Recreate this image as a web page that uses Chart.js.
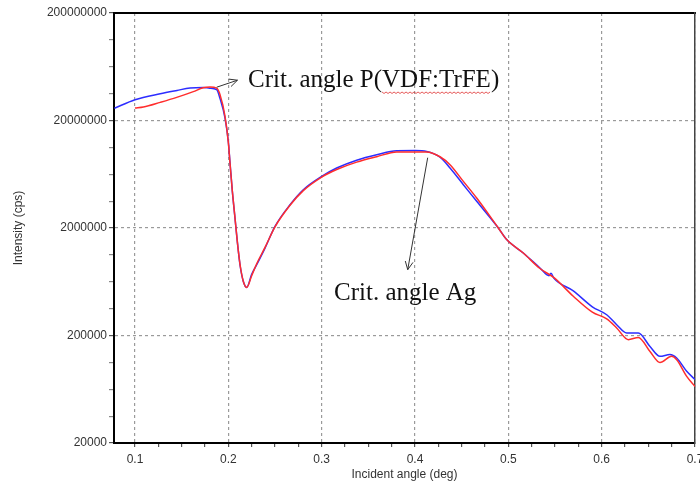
<!DOCTYPE html>
<html lang="en">
<head>
<meta charset="UTF-8">
<title>Reflectivity scan</title>
<script src="https://cdn.jsdelivr.net/npm/chart.js"></script>
<style>
  html, body { margin: 0; padding: 0; background: #fff; }
  canvas { display: block; }
</style>
</head>
<body>
<canvas id="scan" width="700" height="484"></canvas>
<script>
// incident angle (deg) / intensity (cps) for the two scans
const blueAngle = [0.078, 0.100, 0.127, 0.145, 0.159, 0.173, 0.180, 0.1875, 0.1911, 0.1964, 0.200, 0.2018,
  0.2043, 0.2071, 0.2096, 0.2125, 0.216, 0.2197, 0.225, 0.2304, 0.2393, 0.250, 0.2661, 0.2803, 0.300,
  0.3161, 0.3375, 0.359, 0.3804, 0.400, 0.4125, 0.4268, 0.4375, 0.4518, 0.4661, 0.4893, 0.4982, 0.516,
  0.5339, 0.5436, 0.5457, 0.5489, 0.5696, 0.590, 0.6054, 0.6161, 0.6268, 0.6393, 0.6518, 0.6625, 0.6732,
  0.6804, 0.6911, 0.700];
const blueCps = [2.6e7, 3.12e7, 3.55e7, 3.81e7, 4.01e7, 4.06e7, 4.0e7, 3.87e7, 3.2e7, 2.12e7, 1.27e7, 8.1e6,
  4.38e6, 2.49e6, 1.5e6, 9.1e5, 6.4e5, 5.6e5, 7.4e5, 9.1e5, 1.3e6, 2.07e6, 3.29e6, 4.54e6, 6.04e6,
  7.23e6, 8.55e6, 9.61e6, 1.047e7, 1.05e7, 1.03e7, 9.1e6, 7.23e6, 5.06e6, 3.54e6, 2.0e6, 1.56e6, 1.17e6,
  8.5e5, 7.2e5, 7.6e5, 6.8e5, 5.2e5, 3.7e5, 3.12e5, 2.52e5, 2.11e5, 2.11e5, 1.58e5, 1.28e5, 1.33e5,
  1.235e5, 9.3e4, 7.8e4];

const redAngle = [0.100, 0.109, 0.127, 0.1447, 0.1625, 0.173, 0.1804, 0.1875, 0.1911, 0.1964, 0.200, 0.2018,
  0.2043, 0.2071, 0.2096, 0.2125, 0.216, 0.2197, 0.225, 0.2304, 0.2393, 0.250, 0.2661, 0.2803, 0.300,
  0.3161, 0.3375, 0.359, 0.3804, 0.400, 0.4125, 0.4268, 0.4375, 0.4518, 0.4661, 0.4893, 0.4982, 0.516,
  0.5339, 0.5489, 0.5696, 0.590, 0.6054, 0.6161, 0.6285, 0.6393, 0.6518, 0.6625, 0.675, 0.6804, 0.6911,
  0.700];
const redCps = [2.61e7, 2.67e7, 2.95e7, 3.28e7, 3.71e7, 4.03e7, 4.1e7, 4.0e7, 3.48e7, 2.2e7, 1.25e7, 8.0e6,
  4.4e6, 2.5e6, 1.5e6, 9.2e5, 6.4e5, 5.6e5, 7.2e5, 9.3e5, 1.32e6, 2.05e6, 3.25e6, 4.45e6, 5.95e6,
  7.0e6, 8.2e6, 9.21e6, 1.019e7, 1.02e7, 1.02e7, 9.2e6, 7.76e6, 5.43e6, 3.8e6, 2.0e6, 1.56e6, 1.17e6,
  8.4e5, 6.9e5, 4.64e5, 3.3e5, 2.85e5, 2.35e5, 1.83e5, 1.92e5, 1.42e5, 1.12e5, 1.28e5, 1.19e5, 8.33e4,
  6.72e4];

const xTickLabels = ['0.1', '0.2', '0.3', '0.4', '0.5', '0.6', '0.7'];
const yTickValues = [2e4, 2e5, 2e6, 2e7, 2e8];
const yTickLabels = ['20000', '200000', '2000000', '20000000', '200000000'];

// callouts, placed in data units
const notes = [
  { text: 'Crit. angle P(VDF:TrFE)', at: [0.2211, 4.1e7], squiggle: 'VDF:TrFE',
    arrow: [[0.1875, 4.08e7], [0.2098, 4.74e7]] },
  { text: 'Crit. angle Ag', at: [0.3132, 4.31e5],
    arrow: [[0.4136, 9.02e6], [0.3922, 8.19e5]] }
];

const toPoints = (xs, ys) => xs.map((x, i) => ({ x: x, y: ys[i] }));

const isMajorX = v => xTickLabels.some(l => Math.abs(parseFloat(l) - v) < 1e-6);
const yMajorIndex = v => yTickValues.findIndex(t => Math.abs(Math.log10(t / v)) < 1e-6);

const noteLayer = {
  id: 'noteLayer',
  afterDatasetsDraw(chart) {
    const { ctx, scales: { x, y } } = chart;
    const px = p => [x.getPixelForValue(p[0]), y.getPixelForValue(p[1])];
    ctx.save();
    ctx.font = '25px "Liberation Serif"';
    ctx.textBaseline = 'alphabetic';
    ctx.textAlign = 'left';
    notes.forEach(n => {
      const [tx, ty] = px(n.at);
      ctx.fillStyle = '#111';
      ctx.fillText(n.text, tx, ty);

      if (n.squiggle) {
        const start = tx + ctx.measureText(n.text.slice(0, n.text.indexOf(n.squiggle))).width;
        const w = ctx.measureText(n.squiggle).width;
        ctx.beginPath();
        ctx.strokeStyle = '#e03030';
        ctx.lineWidth = 0.8;
        for (let i = 0; i <= w; i += 2) {
          const yy = ty + 5 + (i % 4 === 0 ? 0 : 1.5);
          if (i === 0) ctx.moveTo(start + i, yy); else ctx.lineTo(start + i, yy);
        }
        ctx.stroke();
      }

      const [x0, y0] = px(n.arrow[0]);
      const [x1, y1] = px(n.arrow[1]);
      const ang = Math.atan2(y1 - y0, x1 - x0);
      ctx.strokeStyle = '#333';
      ctx.lineWidth = 1;
      ctx.beginPath();
      ctx.moveTo(x0, y0);
      ctx.lineTo(x1, y1);
      [-0.45, 0.45].forEach(d => {
        ctx.moveTo(x1, y1);
        ctx.lineTo(x1 - 9 * Math.cos(ang + d), y1 - 9 * Math.sin(ang + d));
      });
      ctx.stroke();
    });
    ctx.restore();
  }
};

const tickFont = { family: 'Liberation Sans', size: 12 };

new Chart(document.getElementById('scan'), {
  type: 'line',
  data: {
    datasets: [
      {
        data: toPoints(redAngle, redCps),
        borderColor: 'rgb(255,45,45)',
        borderWidth: 1.5,
        pointRadius: 0,
        cubicInterpolationMode: 'monotone',
        order: 0
      },
      {
        data: toPoints(blueAngle, blueCps),
        borderColor: 'rgb(45,45,255)',
        borderWidth: 1.5,
        pointRadius: 0,
        cubicInterpolationMode: 'monotone',
        order: 1
      }
    ]
  },
  options: {
    responsive: false,
    animation: false,
    devicePixelRatio: 1,
    layout: { padding: { left: 11, right: 5, top: 13, bottom: 2 } },
    plugins: { legend: { display: false }, tooltip: { enabled: false } },
    scales: {
      x: {
        type: 'linear',
        position: 'bottom',
        min: 0.0775,
        max: 0.7,
        afterBuildTicks: s => {
          const t = [];
          for (let k = 0; k <= 24; k++) t.push({ value: +(0.1 + k * 0.025).toFixed(3) });
          s.ticks = t;
        },
        afterFit: s => { s.height = 39; s.paddingLeft = 0; s.paddingRight = 0; },
        ticks: {
          autoSkip: false,
          maxRotation: 0,
          padding: 5,
          color: '#333',
          font: tickFont,
          callback: v => {
            const i = xTickLabels.findIndex(l => Math.abs(parseFloat(l) - v) < 1e-6);
            return i >= 0 ? xTickLabels[i] : '';
          }
        },
        grid: {
          color: c => (c.tick && isMajorX(c.tick.value)) ? '#9a9a9a' : 'rgba(0,0,0,0)',
          lineWidth: 1.2,
          tickColor: '#555',
          tickLength: 4
        },
        border: { display: true, color: '#000', width: 2, dash: [3, 3] },
        title: {
          display: true,
          text: 'Incident angle (deg)',
          color: '#333',
          font: tickFont,
          padding: 0
        }
      },
      xTop: {
        type: 'linear',
        position: 'top',
        grid: { display: false },
        ticks: { display: false },
        border: { display: true, color: '#000', width: 2 },
        afterFit: s => { s.height = 0; }
      },
      y: {
        type: 'logarithmic',
        position: 'left',
        min: 2e4,
        max: 2e8,
        afterBuildTicks: s => {
          const t = [];
          for (let k = 0; k <= 16; k++) t.push({ value: 2e4 * Math.pow(10, k / 4) });
          s.ticks = t;
        },
        afterFit: s => { s.width = 103; s.paddingTop = 0; s.paddingBottom = 0; },
        ticks: {
          autoSkip: false,
          padding: 2,
          color: '#333',
          font: tickFont,
          callback: v => {
            const i = yMajorIndex(v);
            return i >= 0 ? yTickLabels[i] : '';
          }
        },
        grid: {
          color: c => (c.tick && yMajorIndex(c.tick.value) >= 0) ? '#9a9a9a' : 'rgba(0,0,0,0)',
          lineWidth: 1.2,
          tickColor: c => (c.tick && yMajorIndex(c.tick.value) >= 0) ? '#555' : '#888',
          tickLength: 5
        },
        border: { display: true, color: '#000', width: 2, dash: [3, 3] },
        title: {
          display: true,
          text: 'Intensity (cps)',
          color: '#333',
          font: tickFont,
          padding: 0
        }
      },
      yRight: {
        type: 'linear',
        position: 'right',
        grid: { display: false },
        ticks: { display: false },
        border: { display: true, color: '#444', width: 1.5 },
        afterFit: s => { s.width = 0; }
      }
    }
  },
  plugins: [noteLayer]
});
</script>
</body>
</html>
